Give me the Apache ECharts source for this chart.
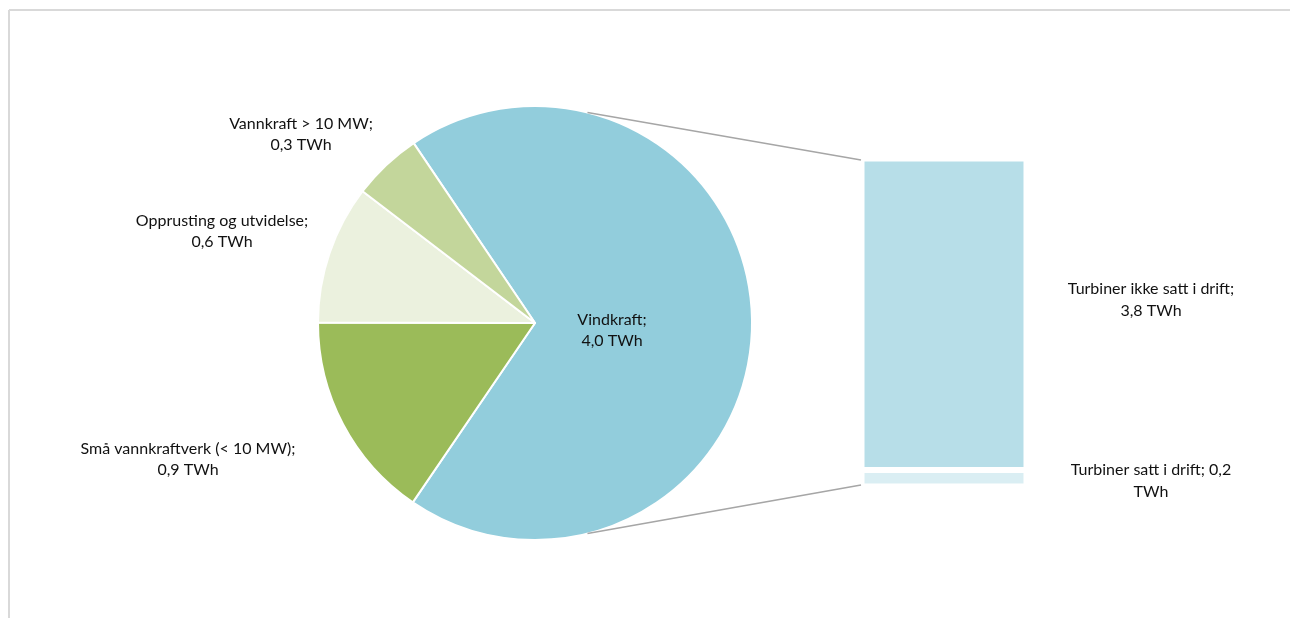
<!DOCTYPE html>
<html>
<head>
<meta charset="utf-8">
<script src="https://cdn.jsdelivr.net/npm/echarts@6/dist/echarts.min.js"></script>
<style>html,body{margin:0;padding:0;background:#fff}#c{width:1290px;height:618px}</style>
</head>
<body>
<div id="c"></div>
<script>
// Pie data (TWh)
var pieNames = ['Vindkraft', 'Små vannkraftverk (< 10 MW)', 'Opprusting og utvidelse', 'Vannkraft > 10 MW'];
var pieValues = [4.0, 0.9, 0.6, 0.3];
// Breakdown of Vindkraft (TWh)
var barNames = ['Turbiner satt i drift', 'Turbiner ikke satt i drift'];
var barValues = [0.2, 3.8];
var unit = 'TWh';

function fmt(v) { return v.toFixed(1).replace('.', ','); }

var pieColors = ['#92cddc', '#9bbb59', '#ebf1de', '#c3d69b'];
var barColors = ['#daeef3', '#b7dee8'];
var FONT = 'Lato';
var FS = 16;
var PIE_CENTER = [535, 323];
var PIE_R = 217;

var pieLabelPos = [[612, 330], [188, 459], [222, 231], [301, 134]];
var barLabelPos = [[1151, 481], [1151, 300]];

// greedy word wrap (split on spaces only) at a max pixel width
var mctx = document.createElement('canvas').getContext('2d');
function wrap(text, maxW) {
  mctx.font = FS + 'px ' + FONT;
  var words = text.split(' ');
  var lines = [];
  var cur = '';
  words.forEach(function (w) {
    var t = cur ? cur + ' ' + w : w;
    if (cur && mctx.measureText(t).width > maxW) { lines.push(cur); cur = w; }
    else cur = t;
  });
  if (cur) lines.push(cur);
  return lines.join('\n');
}

var chart = echarts.init(document.getElementById('c'), null, {renderer: 'canvas'});

var option = {
  animation: false,
  backgroundColor: '#ffffff',
  grid: {left: 861.5, width: 165, top: 158.5, bottom: 131.5, containLabel: false},
  xAxis: {type: 'category', data: ['Vindkraft'], show: false},
  yAxis: {type: 'value', min: 0, max: 4.0, show: false},
  series: [
    {
      type: 'pie',
      center: PIE_CENTER,
      radius: PIE_R,
      startAngle: 124,
      clockwise: true,
      avoidLabelOverlap: false,
      itemStyle: {borderColor: '#ffffff', borderWidth: 2},
      label: {
        show: true,
        position: 'outside',
        fontFamily: FONT,
        fontSize: FS,
        color: '#111',
        lineHeight: 21,
        align: 'center',
        formatter: function (p) { return p.name + ';\n' + fmt(p.value) + ' ' + unit; }
      },
      labelLine: {show: false},
      labelLayout: function (p) {
        var pos = pieLabelPos[p.dataIndex];
        return {x: pos[0], y: pos[1], align: 'center', verticalAlign: 'middle'};
      },
      emphasis: {disabled: true},
      data: pieNames.map(function (n, i) {
        return {name: n, value: pieValues[i], itemStyle: {color: pieColors[i]}};
      })
    }
  ].concat(barNames.map(function (n, i) {
    return {
      type: 'bar',
      name: n,
      stack: 'v',
      barWidth: '100%',
      itemStyle: {color: barColors[i], borderColor: '#ffffff', borderWidth: 3},
      label: {
        show: true,
        position: 'right',
        fontFamily: FONT,
        fontSize: FS,
        color: '#111',
        lineHeight: 22,
        align: 'center',
        formatter: function (p) { return wrap(p.seriesName + '; ' + fmt(p.value) + ' ' + unit, 176); }
      },
      labelLayout: function (p) {
        var pos = barLabelPos[i];
        return {x: pos[0], y: pos[1], align: 'center', verticalAlign: 'middle'};
      },
      emphasis: {disabled: true},
      data: [barValues[i]]
    };
  }))
};
chart.setOption(option);

// connector lines from the Vindkraft slice to the breakdown bar
var total = barValues.reduce(function (a, b) { return a + b; }, 0);
var barTopY = chart.convertToPixel({yAxisIndex: 0}, total) + 1.5;
var barBotY = chart.convertToPixel({yAxisIndex: 0}, 0) - 1.5;
var barLeftX = 861;
var ang = 76 * Math.PI / 180;
var p1 = [PIE_CENTER[0] + PIE_R * Math.cos(ang), PIE_CENTER[1] - PIE_R * Math.sin(ang)];
var p2 = [PIE_CENTER[0] + PIE_R * Math.cos(ang), PIE_CENTER[1] + PIE_R * Math.sin(ang)];

chart.setOption({
  graphic: [
    {type: 'line', shape: {x1: p1[0], y1: p1[1], x2: barLeftX, y2: barTopY}, style: {stroke: '#a6a6a6', lineWidth: 1.5}, z: 10},
    {type: 'line', shape: {x1: p2[0], y1: p2[1], x2: barLeftX, y2: barBotY}, style: {stroke: '#a6a6a6', lineWidth: 1.5}, z: 10},
    {type: 'line', shape: {x1: 9, y1: 10, x2: 1290, y2: 10}, style: {stroke: '#d9d9d9', lineWidth: 2}},
    {type: 'line', shape: {x1: 9, y1: 10, x2: 9, y2: 618}, style: {stroke: '#d9d9d9', lineWidth: 2}}
  ]
});
</script>
</body>
</html>
